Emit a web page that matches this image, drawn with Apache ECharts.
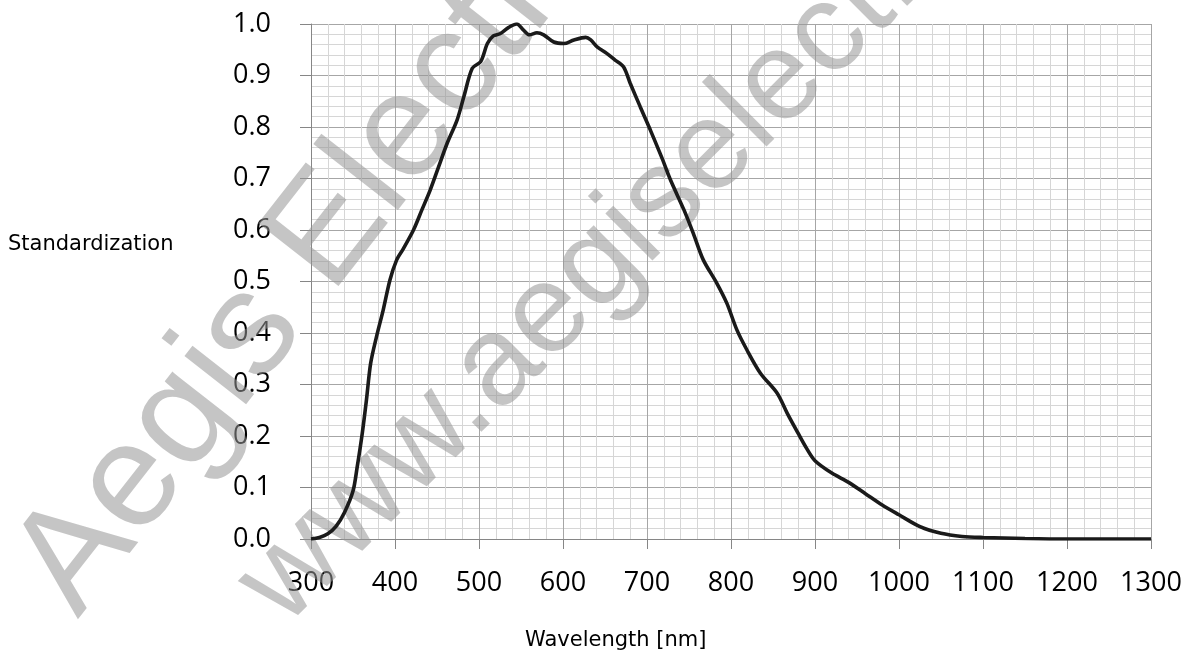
<!DOCTYPE html>
<html>
<head>
<meta charset="utf-8">
<script src="https://cdn.jsdelivr.net/npm/echarts@6/dist/echarts.min.js"></script>
<style>
html,body{margin:0;padding:0;background:#fff;}
#chart{width:1195px;height:655px;}
</style>
</head>
<body>
<div id="chart"></div>
<script>
// Data
const wavelengths = [300,310,320,330,340,350,355,361,366,371,378,386,394,402,410,422,432,442,452,462,474,482,492,502,510,517,525,535,545,553,560,569,577,589,601,613,627,633,641,652,662,672,680,692,704,718,728,744,755,767,783,795,807,819,835,855,867,880,890,900,920,940,960,980,1000,1025,1050,1075,1100,1150,1200,1250,1300];
const values = [0.000,0.003,0.010,0.025,0.052,0.093,0.140,0.205,0.270,0.341,0.393,0.445,0.503,0.542,0.564,0.600,0.639,0.678,0.723,0.768,0.814,0.859,0.914,0.927,0.962,0.977,0.981,0.993,1.000,0.988,0.979,0.983,0.979,0.965,0.962,0.969,0.974,0.969,0.955,0.943,0.930,0.917,0.885,0.839,0.794,0.739,0.697,0.639,0.594,0.542,0.497,0.458,0.406,0.367,0.322,0.283,0.244,0.205,0.176,0.152,0.128,0.110,0.088,0.066,0.047,0.024,0.011,0.005,0.003,0.001,0.000,0.000,0.000];
const xTitle = 'Wavelength [nm]';
const yTitle = 'Standardization';
const watermark1 = 'Aegis Electronics';
const watermark2 = 'www.aegiselect.com';

const seriesData = wavelengths.map((w, i) => [w, values[i]]);

const chart = echarts.init(document.getElementById('chart'), null, {renderer: 'canvas'});
const labelFont = '"Open Sans", sans-serif';
const titleFont = '"DejaVu Sans", sans-serif';
const wmFont = '"Liberation Sans", Arial, sans-serif';

chart.setOption({
  animation: false,
  backgroundColor: '#ffffff',
  grid: {left: 311, right: 44, top: 24, bottom: 116, containLabel: false},
  xAxis: {
    type: 'value', min: 300, max: 1300, interval: 100,
    axisLine: {show: true, onZero: false, lineStyle: {color: '#868686', width: 1}},
    axisTick: {show: true, length: 10, lineStyle: {color: '#868686'}},
    axisLabel: {color: '#000', fontFamily: labelFont, fontSize: 27, margin: 31,
      formatter: v => String(v)},
    splitLine: {show: true, lineStyle: {color: '#a6a6a6', width: 1}},
    minorTick: {show: false, splitNumber: 5},
    minorSplitLine: {show: true, lineStyle: {color: '#d6d6d6', width: 1}}
  },
  yAxis: {
    type: 'value', min: 0, max: 1, interval: 0.1,
    axisLine: {show: true, lineStyle: {color: '#868686', width: 1}},
    axisTick: {show: true, length: 11, lineStyle: {color: '#868686'}},
    axisLabel: {color: '#000', fontFamily: labelFont, fontSize: 27, margin: 40,
      formatter: v => v.toFixed(1)},
    splitLine: {show: true, lineStyle: {color: '#a6a6a6', width: 1}},
    minorTick: {show: false, splitNumber: 5},
    minorSplitLine: {show: true, lineStyle: {color: '#d6d6d6', width: 1}}
  },
  graphic: [
    {type: 'text', x: 104, y: 640, rotation: 52 * Math.PI / 180, z: 1, silent: true,
      style: {text: watermark1, fontFamily: wmFont, fontSize: 148,
        fill: 'rgba(150,150,150,0.55)', textVerticalAlign: 'bottom', textAlign: 'left'}},
    {type: 'text', x: 305, y: 648, rotation: 45 * Math.PI / 180, z: 1, silent: true,
      style: {text: watermark2, fontFamily: wmFont, fontSize: 126,
        fill: 'rgba(150,150,150,0.55)', textVerticalAlign: 'bottom', textAlign: 'left'}},
    {type: 'text', left: 8, top: 234, z: 10,
      style: {text: yTitle, fontFamily: titleFont, fontSize: 21, fill: '#000'}},
    {type: 'text', left: 525, top: 630, z: 10,
      style: {text: xTitle, fontFamily: titleFont, fontSize: 21, fill: '#000'}}
  ],
  series: [{
    type: 'line', data: seriesData, smooth: 0.3, showSymbol: false, z: 5,
    lineStyle: {color: '#1a1a1a', width: 3.6}
  }]
});
</script>
</body>
</html>
